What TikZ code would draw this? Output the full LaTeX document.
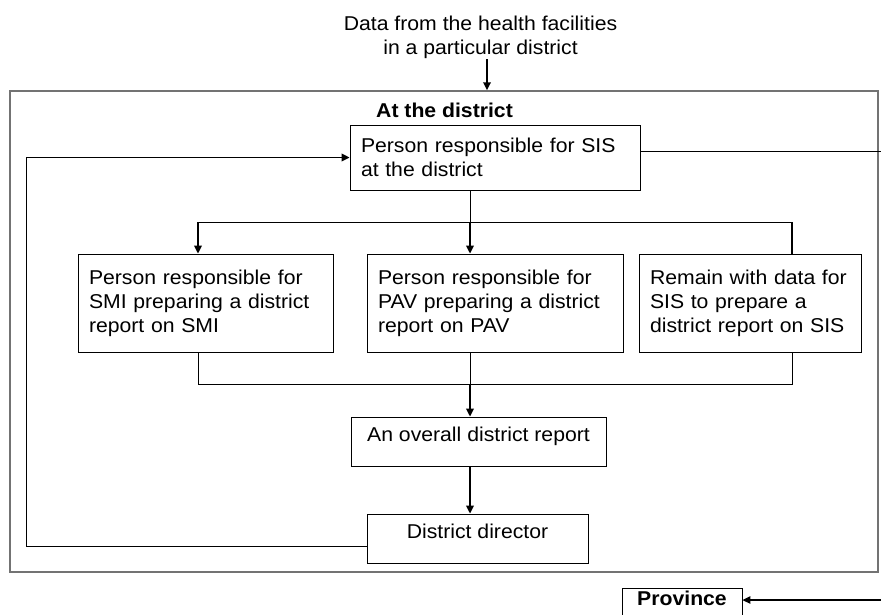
\documentclass[tikz,border=0pt]{standalone}
\usepackage{fontspec}
\setmainfont{Liberation Sans}[FakeStretch=1.06]
\usetikzlibrary{arrows.meta}

\begin{document}
\begin{tikzpicture}[x=1pt,y=-1pt,
  txt/.style={font=\fontsize{20}{24}\selectfont},
  boldtxt/.style={font=\fontsize{20}{24}\selectfont\bfseries},
  box/.style={draw, line width=0.8pt, inner sep=0pt, inner xsep=11pt, txt},
  lbox/.style={box, align=left},
  frm/.style={draw=black!55, line width=1.5pt, inner sep=0pt},
  thin/.style={line width=0.8pt},
  arr/.style={line width=1.7pt, -{Triangle[length=8pt,width=7.5pt]}},
  heavy/.style={line width=1.7pt}
]
\useasboundingbox (0,0) rectangle (881,614);
\clip (0,0) rectangle (881,614);

% district frame
\node[frm, minimum width=868pt, minimum height=481pt] (frame) at (444,331.5) {};

% incoming data
\node[txt, align=center, inner sep=0pt] (src) at (480.5,37.5)
  {Data from the health facilities\\in a particular district};
\coordinate (inA) at (487,59);
\draw[arr] (inA) -- (inA |- frame.north);

\node[boldtxt, anchor=base west, inner sep=0pt] (lbl) at (376,117) {At the district};

% boxes
\node[lbox, text width=268pt, minimum height=65pt] (sis) at (495,157.5)
  {Person responsible for SIS\\at the district};
\node[lbox, text width=233pt, minimum height=98pt] (smi) at (205.5,303)
  {Person responsible for\\SMI preparing a district\\report on SMI};
\node[lbox, text width=234pt, minimum height=98pt] (pav) at (495,303)
  {Person responsible for\\PAV preparing a district\\report on PAV};
\node[lbox, text width=200pt, minimum height=98pt] (rem) at (750,303)
  {Remain with data for\\SIS to prepare a\\district report on SIS};
\node[box, minimum width=255pt, minimum height=49pt, text height=15pt, text depth=15pt] (all)
  at (478.5,441.5) {An overall district report};
\node[box, minimum width=221pt, minimum height=49pt, text height=15pt, text depth=15pt] (dir)
  at (477.5,538.5) {District director};
\node[draw, line width=0.8pt, boldtxt, inner sep=0pt, minimum width=120pt, minimum height=50pt,
  text height=15pt, text depth=31pt] (prov) at (682,613) {Province};

% helper coordinates
\coordinate (edgeR) at (881,0);
\coordinate (loopx) at (26,0);
\coordinate (c1) at (198,0);
\coordinate (c2) at (470,0);
\coordinate (c3) at (792,0);
\coordinate (split) at (470,222);
\coordinate (merge) at (470,384);
\coordinate (provin) at (881,600);

% from SIS out to the right edge
\draw[thin] ([yshift=6.5pt]sis.east) -- ([yshift=6.5pt]sis.east -| edgeR);
% into the province
\draw[line width=1.2pt, -{Triangle[length=8pt,width=7.5pt]}] (provin) -- (provin -| prov.east);

% split towards the three programmes
\draw[thin] (c2 |- sis.south) -- (split);
\draw[thin] (c1 |- split) -- (c3 |- split);
\draw[arr] (c1 |- split) -- (c1 |- smi.north);
\draw[arr] (split) -- (c2 |- pav.north);
\draw[heavy] (c3 |- split) -- (c3 |- rem.north);

% merge into the overall report
\draw[thin] (c1 |- smi.south) -- (c1 |- merge) -- (c3 |- merge) -- (c3 |- rem.south);
\draw[thin] (c2 |- pav.south) -- (merge);
\draw[arr] (merge) -- (c2 |- all.north);
\draw[arr] (c2 |- all.south) -- (c2 |- dir.north);

% feedback loop from the director
\coordinate (back) at ([yshift=-7.5pt]dir.west);
\draw[thin] (back) -- (loopx |- back) -- (loopx |- sis.west);
\draw[arr] (loopx |- sis.west) -- (sis.west);
\end{tikzpicture}
\end{document}
